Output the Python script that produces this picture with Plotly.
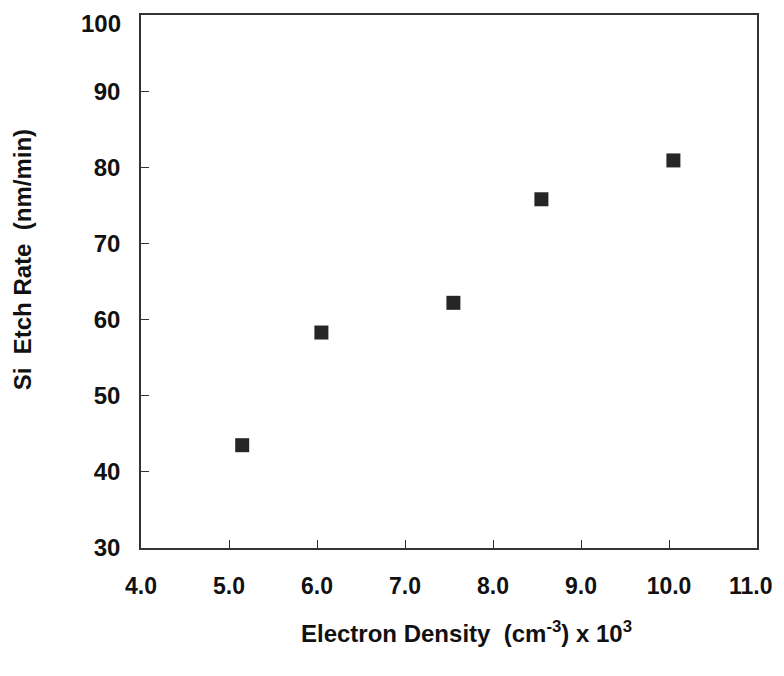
import plotly.graph_objects as go

# Data
electron_density = [5.15, 6.05, 7.55, 8.55, 10.05]
etch_rate = [43.5, 58.3, 62.2, 75.8, 80.9]

x_ticks = [4, 5, 6, 7, 8, 9, 10, 11]
x_labels = ["4.0", "5.0", "6.0", "7.0", "8.0", "9.0", "10.0", "11.0"]
y_ticks = [30, 40, 50, 60, 70, 80, 90, 100]
y_labels = ["30", "40", "50", "60", "70", "80", "90", "100"]

FONT = "Liberation Sans"
INK = "#111111"
AXIS = "#333333"
TICKFONT = dict(family=FONT, size=24, weight="bold", color=INK)
XTICKFONT = dict(family=FONT, size=23, weight="bold", color=INK)

fig = go.Figure()
fig.add_trace(go.Scatter(
    x=electron_density, y=etch_rate, mode="markers",
    marker=dict(symbol="square", size=14, color="#262626",
                line=dict(width=0)),
    showlegend=False, hoverinfo="x+y",
))

# page body has an 8px margin, so the figure is sized to fit the window
fig.update_layout(
    width=768, height=660,
    margin=dict(l=133, r=19, t=7, b=120, autoexpand=False),
    paper_bgcolor="white", plot_bgcolor="white",
    font=dict(family=FONT, color=INK),
)

# the outermost labels (11.0 and 100) sit at the figure edge, so they are
# drawn as annotations nudged inward; the other labels are normal tick labels
fig.update_xaxes(
    range=[x_ticks[0], x_ticks[-1]], tickvals=x_ticks[:-1],
    ticktext=x_labels[:-1],
    showgrid=False, zeroline=False, automargin=False,
    showline=True, linecolor=AXIS, linewidth=1.6, mirror=True,
    ticks="inside", ticklen=8, tickwidth=1.4, tickcolor=AXIS,
    tickfont=XTICKFONT,
    ticklabelstandoff=17, ticklabeloverflow="allow",
)
fig.update_yaxes(
    range=[y_ticks[0], y_ticks[-1]], tickvals=y_ticks[:-1],
    ticktext=y_labels[:-1],
    showgrid=False, zeroline=False, automargin=False,
    showline=True, linecolor=AXIS, linewidth=1.6, mirror=True,
    ticks="inside", ticklen=8, tickwidth=1.4, tickcolor=AXIS,
    tickfont=TICKFONT,
    ticklabelstandoff=14, ticklabeloverflow="allow",
)

fig.add_annotation(
    text=x_labels[-1], xref="x", x=x_ticks[-1], yref="paper", y=0,
    xanchor="right", yanchor="middle", xshift=18, yshift=-38,
    showarrow=False, font=XTICKFONT,
)
fig.add_annotation(
    text=y_labels[-1], xref="paper", x=0, yref="y", y=y_ticks[-1],
    xanchor="right", yanchor="middle", xshift=-18, yshift=-8,
    showarrow=False, font=TICKFONT,
)

fig.add_annotation(
    text="Electron Density  (cm<sup>-3</sup>) x 10<sup>3</sup>",
    xref="paper", yref="paper", x=0.529, y=-0.158,
    xanchor="center", yanchor="middle", showarrow=False,
    font=dict(family=FONT, size=24, weight="bold", color=INK),
)
fig.add_annotation(
    text="Si  Etch Rate  (nm/min)",
    xref="paper", yref="paper", x=-0.193, y=0.54,
    xanchor="center", yanchor="middle", showarrow=False, textangle=-90,
    font=dict(family=FONT, size=24, weight="bold", color=INK),
)

fig.write_html("out.html")
